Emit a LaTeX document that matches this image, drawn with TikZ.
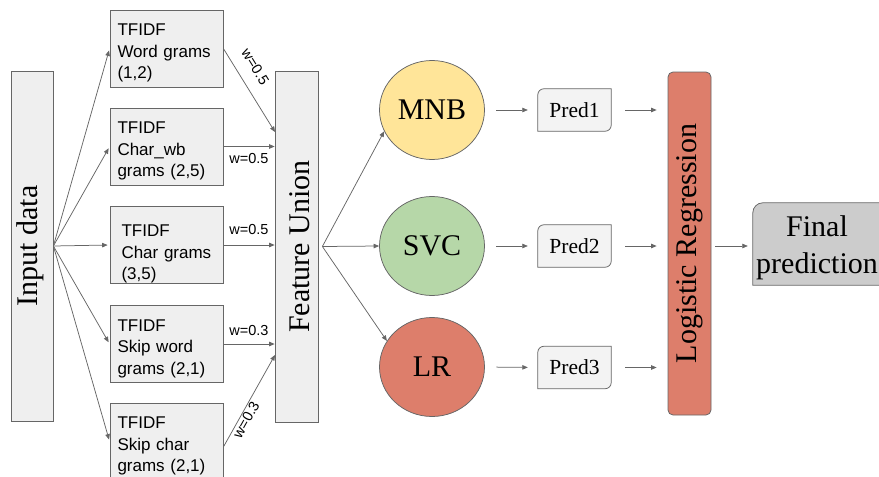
\documentclass[tikz,border=0pt]{standalone}
\usepackage{fontspec}
\usepackage{graphicx}
\setmainfont{Liberation Serif}
\newfontfamily\arialf{Liberation Sans}
\usetikzlibrary{arrows.meta,backgrounds,shapes.geometric}
\definecolor{linec}{HTML}{666666}
\definecolor{edgec}{HTML}{666666}
\definecolor{boxc}{HTML}{EFEFEF}
\definecolor{predc}{HTML}{F3F3F3}
\definecolor{finc}{HTML}{CCCCCC}
\definecolor{mnbc}{HTML}{FFE599}
\definecolor{svcc}{HTML}{B6D7A8}
\definecolor{lrc}{HTML}{DD7E6B}
\begin{document}
\begin{tikzpicture}[x=1pt,y=-1pt,
 arr/.style={draw=linec,line width=0.75pt,-{Triangle[length=5.5pt,width=4.5pt]}},
 tbox/.style={draw=edgec,line width=0.75pt,fill=boxc,minimum width=113pt,minimum height=77pt,inner sep=0pt,text width=98pt,align=left,font=\arialf\fontsize{17}{21.7}\selectfont},
 vbox/.style={draw=edgec,line width=0.75pt,fill=boxc,minimum width=43pt,minimum height=351pt,inner sep=0pt,font=\fontsize{30}{34}\selectfont},
 clf/.style={ellipse,draw=edgec,line width=0.75pt,minimum width=105pt,minimum height=99pt,inner sep=0pt,font=\fontsize{30}{34}\selectfont},
 pred/.style={minimum width=73pt,minimum height=42pt,inner sep=0pt,font=\fontsize{21.5}{25}\selectfont},
 predshape/.style={draw=edgec,line width=0.75pt,fill=predc},
 wlab/.style={font=\arialf\fontsize{14.5}{17}\selectfont,inner sep=1pt,text=black},
]
\useasboundingbox (0,0) rectangle (879,477);
\clip (0,0) rectangle (879,477);

% input and TFIDF boxes
\node[vbox,minimum width=42pt,minimum height=350pt] (inp) at (32,246) {\rotatebox{90}{Input data}\hspace*{4pt}};
\node[tbox] (t1) at (166.5,48.5) {\rule{0pt}{21pt}TFIDF\\Word grams\\(1,2)};
\node[tbox] (t2) at (166.5,146.5) {\rule{0pt}{21pt}TFIDF\\Char\_wb\\grams (2,5)};
\node[tbox,text width=90pt] (t3) at (166.5,245) {\rule{0pt}{30pt}TFIDF\\Char grams\\(3,5)};
\node[tbox] (t4) at (166.5,344) {\rule{0pt}{21pt}TFIDF\\Skip word\\grams (2,1)};
\node[tbox] (t5) at (166.5,441.5) {\rule{0pt}{21pt}TFIDF\\Skip char\\grams (2,1)};

% feature union
\node[vbox] (fu) at (296.5,246.5) {\hspace*{6pt}\rotatebox{90}{Feature Union}};

% classifiers
\node[clf,fill=mnbc] (mnb) at (432,110) {MNB};
\node[clf,fill=svcc] (svc) at (432,246) {SVC};
\node[clf,fill=lrc] (lr) at (432,367) {LR};

% predictions
\node[pred] (p1) at (574.5,110) {Pred1};
\node[pred] (p2) at (574.5,246) {Pred2};
\node[pred] (p3) at (574.5,367.5) {Pred3};

% meta learner
\node[vbox,fill=lrc,rounded corners=5pt,minimum height=343pt] (lrb) at (689.5,243.5) {\rotatebox{90}{Logistic Regression}};

% final
\node[minimum width=128pt,minimum height=82pt,inner sep=0pt,font=\fontsize{30}{37}\selectfont,align=center] (fin) at (817,248) {Final\\prediction};

\begin{scope}[on background layer]
\clip (0,0) rectangle (879,477);
\foreach \n in {p1,p2,p3}{
 \path[predshape] (\n.south west) -- ([yshift=-6pt]\n.north west) arc[start angle=180,end angle=90,radius=6pt] -- (\n.north east) -- ([yshift=6pt]\n.south east) arc[start angle=0,end angle=-90,radius=6pt] -- cycle;
}
\path[draw=edgec,line width=0.75pt,fill=finc] ([yshift=4pt]fin.south west) -- ([yshift=-6pt]fin.north west) arc[start angle=180,end angle=90,radius=10pt] -- ([xshift=10pt,yshift=4pt]fin.north east) -- ([xshift=10pt,yshift=4pt]fin.south east) -- cycle;
\end{scope}

% connectors
\foreach \t in {t1,t2,t3,t4,t5}{\draw[arr,shorten >=2pt] (inp.east) -- (\t.west);}

\coordinate (fu1) at (275,132);
\coordinate (fu5) at (275,355);
\draw[arr] (t1.east) -- node[wlab,sloped,above=11pt,pos=0.33]{w=0.5} (fu1);
\draw[arr] (t2.east) -- node[wlab,below=5pt]{w=0.5} (t2.east -| fu.west);
\draw[arr] (t3.east) -- node[wlab,above=9pt]{w=0.5} (t3.east -| fu.west);
\draw[arr] (t4.east) -- node[wlab,above=7pt]{w=0.3} (t4.east -| fu.west);
\draw[arr] ([yshift=-5.5pt]t5.east) -- node[wlab,sloped,below=0pt,pos=0.33]{w=0.3} (fu5);

\draw[arr] ([xshift=4pt]fu.east) -- (mnb.204);
\draw[arr] ([xshift=4pt]fu.east) -- (svc.west);
\draw[arr] ([xshift=4pt]fu.east) -- (lr.150);

\foreach \c/\p in {mnb/p1,svc/p2,lr/p3}{
 \draw[arr,shorten <=11.5pt,shorten >=10pt] (\c.east) -- (\p.west);
 \draw[arr,shorten <=14pt,shorten >=11pt] (\p.east) -- (\p.east -| lrb.west);
}
\draw[arr,shorten <=4pt,shorten >=5pt] ([yshift=2pt]lrb.east |- fin.west) -- ([yshift=2pt]fin.west);
\end{tikzpicture}
\end{document}
